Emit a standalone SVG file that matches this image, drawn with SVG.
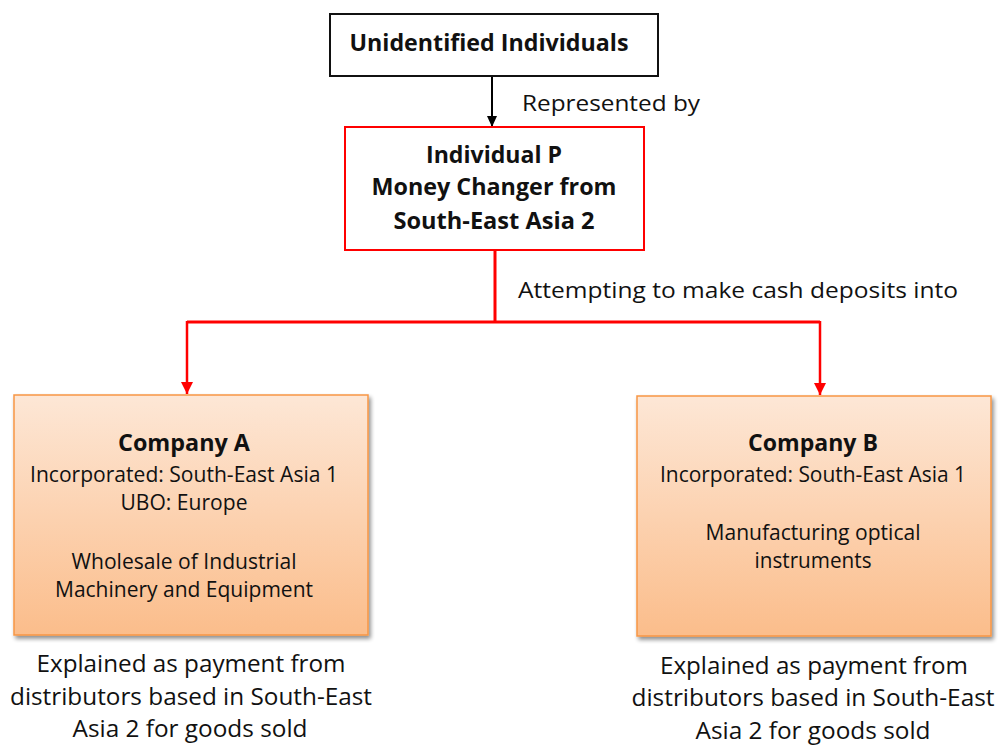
<svg xmlns="http://www.w3.org/2000/svg" width="999" height="745" viewBox="0 0 999 745">
  <defs>
    <linearGradient id="peach" x1="0" y1="0" x2="0" y2="1">
      <stop offset="0" stop-color="#fde7d6"/>
      <stop offset="1" stop-color="#fbbd8b"/>
    </linearGradient>
    <filter id="shadow" x="-5%" y="-5%" width="115%" height="115%">
      <feGaussianBlur in="SourceAlpha" stdDeviation="2"/>
      <feOffset dx="2" dy="3" result="b"/>
      <feComponentTransfer><feFuncA type="linear" slope="0.45"/></feComponentTransfer>
      <feMerge><feMergeNode/><feMergeNode in="SourceGraphic"/></feMerge>
    </filter>
    <marker id="arrBlack" markerWidth="11" markerHeight="10" refX="11" refY="5" orient="auto" markerUnits="userSpaceOnUse" viewBox="0 0 11 10">
      <path d="M0,0 L11,5 L0,10 Z" fill="#000"/>
    </marker>
    <marker id="arrRed" markerWidth="12" markerHeight="12" refX="12" refY="6" orient="auto" markerUnits="userSpaceOnUse" viewBox="0 0 12 12">
      <path d="M0,0 L12,6 L0,12 Z" fill="#ff0000"/>
    </marker>
  </defs>
  <style>
    text { font-family: "Open Sans", "Noto Sans", "Liberation Sans", sans-serif; fill: #111; }
    .b { font-weight: bold; font-size: 23px; }
    .n { font-size: 21px; }
    .l { font-size: 24px; }
    .c { text-anchor: middle; }
    .company { fill: url(#peach); stroke: #f79646; stroke-width: 1.5; filter: url(#shadow); }
  </style>
  <rect width="999" height="745" fill="#fff"/>

  <g id="connectors">
    <line x1="492" y1="77" x2="492" y2="127" stroke="#000" stroke-width="2" marker-end="url(#arrBlack)"/>
    <path d="M495,250 V322 M187,322 H820" fill="none" stroke="#ff0000" stroke-width="3"/>
    <line x1="187" y1="321" x2="187" y2="394" stroke="#ff0000" stroke-width="2.5" marker-end="url(#arrRed)"/>
    <line x1="820" y1="321" x2="820" y2="395" stroke="#ff0000" stroke-width="2.5" marker-end="url(#arrRed)"/>
    <text class="n" x="522" y="111" textLength="178" lengthAdjust="spacingAndGlyphs">Represented by</text>
    <text class="n" x="518" y="298" textLength="440" lengthAdjust="spacingAndGlyphs">Attempting to make cash deposits into</text>
  </g>

  <g id="unidentified">
    <rect x="330" y="14" width="328" height="62" fill="#fff" stroke="#111" stroke-width="2"/>
    <text class="b c" x="489" y="51" textLength="279" lengthAdjust="spacingAndGlyphs">Unidentified Individuals</text>
  </g>

  <g id="individual-p">
    <rect x="345" y="127" width="299" height="123" fill="#fff" stroke="#ff0000" stroke-width="2"/>
    <text class="b c" x="494" y="163" textLength="136" lengthAdjust="spacingAndGlyphs">Individual P</text>
    <text class="b c" x="494" y="195" textLength="245" lengthAdjust="spacingAndGlyphs">Money Changer from</text>
    <text class="b c" x="494" y="229" textLength="201" lengthAdjust="spacingAndGlyphs">South-East Asia 2</text>
  </g>

  <g id="company-a">
    <rect class="company" x="14" y="395" width="354" height="240"/>
    <text class="b c" x="184" y="451" textLength="132" lengthAdjust="spacingAndGlyphs">Company A</text>
    <text class="n c" x="184" y="482" textLength="308" lengthAdjust="spacingAndGlyphs">Incorporated: South-East Asia 1</text>
    <text class="n c" x="184" y="510" textLength="127" lengthAdjust="spacingAndGlyphs">UBO: Europe</text>
    <text class="n c" x="184" y="569" textLength="225" lengthAdjust="spacingAndGlyphs">Wholesale of Industrial</text>
    <text class="n c" x="184" y="597" textLength="258" lengthAdjust="spacingAndGlyphs">Machinery and Equipment</text>
  </g>

  <g id="company-b">
    <rect class="company" x="637" y="396" width="354" height="240"/>
    <text class="b c" x="813" y="451" textLength="130" lengthAdjust="spacingAndGlyphs">Company B</text>
    <text class="n c" x="813" y="482" textLength="306" lengthAdjust="spacingAndGlyphs">Incorporated: South-East Asia 1</text>
    <text class="n c" x="813" y="540" textLength="215" lengthAdjust="spacingAndGlyphs">Manufacturing optical</text>
    <text class="n c" x="813" y="568" textLength="117" lengthAdjust="spacingAndGlyphs">instruments</text>
  </g>

  <g id="note-a">
    <text class="l c" x="191" y="672" textLength="309" lengthAdjust="spacingAndGlyphs">Explained as payment from</text>
    <text class="l c" x="191" y="705" textLength="362" lengthAdjust="spacingAndGlyphs">distributors based in South-East</text>
    <text class="l c" x="190" y="737" textLength="235" lengthAdjust="spacingAndGlyphs">Asia 2 for goods sold</text>
  </g>

  <g id="note-b">
    <text class="l c" x="814" y="674" textLength="308" lengthAdjust="spacingAndGlyphs">Explained as payment from</text>
    <text class="l c" x="813" y="706" textLength="363" lengthAdjust="spacingAndGlyphs">distributors based in South-East</text>
    <text class="l c" x="813" y="739" textLength="235" lengthAdjust="spacingAndGlyphs">Asia 2 for goods sold</text>
  </g>
</svg>
